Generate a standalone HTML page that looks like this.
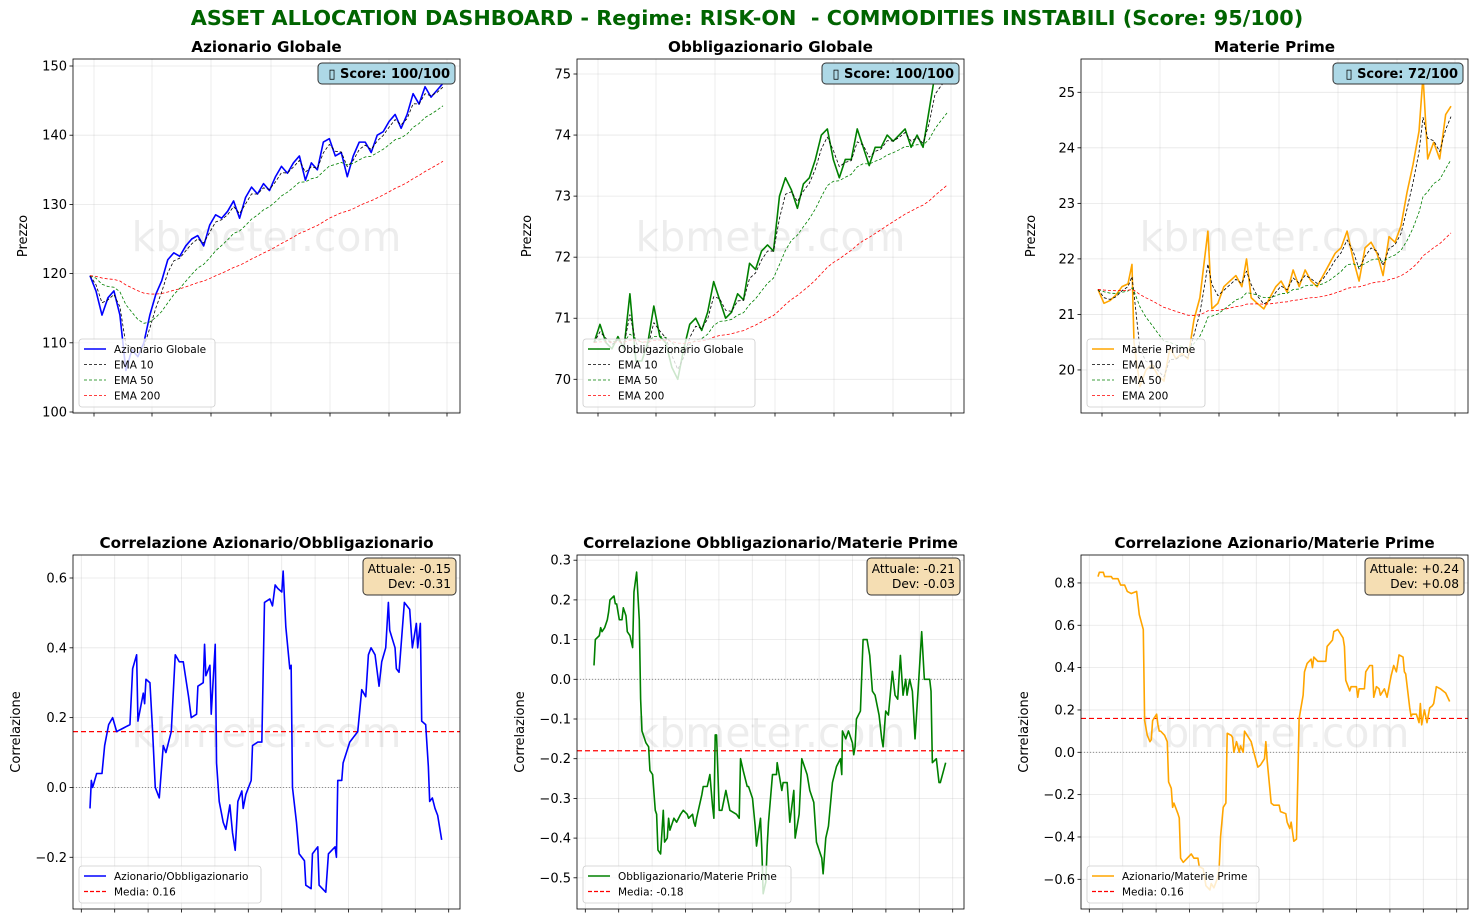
<!DOCTYPE html>
<html><head><meta charset="utf-8"><title>Asset Allocation Dashboard</title>
<style>
html,body{margin:0;padding:0;background:#fff;}
svg{display:block;font-family:"DejaVu Sans","Liberation Sans",sans-serif;}
</style></head>
<body>
<svg id="chart" width="1477" height="924" viewBox="0 0 1477 924" xmlns="http://www.w3.org/2000/svg">
<rect x="0" y="0" width="1477" height="924" fill="#fff"/>
<text x="747" y="25" text-anchor="middle" font-size="20.8" font-weight="bold" fill="#006400" xml:space="preserve">ASSET ALLOCATION DASHBOARD - Regime: RISK-ON&#160; - COMMODITIES INSTABILI (Score: 95/100)</text>
</svg>
<script>
// ---------- DATA ----------
const equityPrice=[119.7,117.5,114,116.5,117.5,114,106,109,108,110,114,117,119,122,123,122.5,124,125,125.5,124,127,128.5,128,129,130.5,128,131,132.5,131.5,133,132,134,135.5,134.5,136,137,133.5,136,135,139,139.5,137,137.5,134,137,139,139,137.5,140,140.5,142,143,141,143,146,144.5,147,145.5,146.5,147.5];
const bondPrice=[70.6,70.9,70.6,70.5,70.7,70.5,71.4,70.3,70.3,70.6,71.2,70.7,70.6,70.2,70.0,70.5,70.9,71.0,70.8,71.1,71.6,71.3,71.0,71.1,71.4,71.3,71.9,71.8,72.1,72.2,72.1,73.0,73.3,73.1,72.8,73.2,73.3,73.6,74.0,74.1,73.6,73.3,73.6,73.6,74.1,73.8,73.5,73.8,73.8,74.0,73.9,74.0,74.1,73.8,74.0,73.8,74.4,75.0,74.9,75.0];
const commDays=[0,4.5,9,13.5,18,22.5,25.5,27,31.5,36,40.5,45,49.5,54,58.5,63,67.5,72,76.5,80,82.5,85.5,90,94.5,99,103.5,108,111.5,115,119.5,124.5,129,133.5,137.5,142,146.5,151,155.5,160,164.5,169,173.5,178,182.5,187,191.5,196,200.5,205,209.5,214,218.5,223,227.5,232,236.5,241,244,247.5,252,256.5,261,265];
const commPrice=[21.45,21.2,21.25,21.35,21.5,21.55,21.9,20.5,19.7,20.0,20.1,19.9,19.8,20.4,20.2,20.3,20.2,20.9,21.3,22.0,22.5,21.1,21.2,21.5,21.6,21.7,21.5,22.0,21.3,21.2,21.1,21.3,21.5,21.6,21.4,21.8,21.5,21.8,21.6,21.5,21.7,21.9,22.1,22.2,22.5,22.0,21.6,22.2,22.3,22.1,21.7,22.4,22.3,22.6,23.2,23.7,24.3,25.3,23.8,24.1,23.8,24.6,24.75];

const corrEBDays=[0,1,2,5,9,11,14,17,20,25,30,32,35,36,40,41,42,45,47,49,52,55,57,61,64,67,70,74,76,80,81,85,86,87,90,91,94,95,97,100,102,105,107,109,111,114,115,117,121,122,126,129,131,135,137,139,141,144,145,147,150,151,152,155,157,161,162,166,167,171,172,177,179,184,185,186,189,190,195,199,201,204,207,209,211,214,217,219,222,224,225,229,230,232,236,240,242,245,246,248,249,252,254,255,257,259,261,264];
const corrEBVals=[-0.06,0.02,0.0,0.04,0.04,0.12,0.18,0.2,0.16,0.17,0.18,0.34,0.38,0.19,0.27,0.24,0.31,0.30,0.16,0.0,-0.03,0.12,0.10,0.16,0.38,0.36,0.36,0.26,0.20,0.21,0.29,0.30,0.41,0.32,0.35,0.21,0.41,0.07,-0.04,-0.10,-0.12,-0.05,-0.13,-0.18,-0.04,-0.01,-0.06,-0.02,0.02,0.12,0.13,0.13,0.53,0.54,0.52,0.58,0.57,0.56,0.62,0.46,0.34,0.35,0.0,-0.10,-0.19,-0.21,-0.28,-0.29,-0.19,-0.17,-0.28,-0.30,-0.19,-0.17,-0.20,0.02,0.02,0.07,0.13,0.15,0.16,0.28,0.26,0.38,0.40,0.38,0.29,0.36,0.40,0.53,0.45,0.40,0.34,0.33,0.53,0.51,0.40,0.47,0.40,0.47,0.19,0.18,0.06,-0.04,-0.03,-0.06,-0.08,-0.15];

const corrBCDays=[0,1,4,5,6,8,10,11,12,15,16,17,19,21,22,24,25,27,29,30,32,34,35,36,39,41,42,44,46,47,48,50,52,53,55,56,57,60,62,65,67,70,71,74,75,76,77,81,82,85,87,89,90,91,92,94,96,99,102,107,109,110,112,115,116,119,121,122,125,126,127,129,130,131,134,137,137.5,139,141,142,145,147,150,151,154,156,160,162,165,167,171,172,174,176,179,182,185,186,186.5,189,191,194,195,196,197,200,202,205,207,209,211,214,216,217,219,221,224,226,228,230,232,234,235,237,239,241,244,246,248,252,253,254,257,259,260,264];
const corrBCVals=[0.035,0.1,0.11,0.13,0.12,0.13,0.15,0.17,0.2,0.21,0.19,0.19,0.15,0.15,0.18,0.16,0.12,0.11,0.08,0.22,0.27,0.15,-0.05,-0.13,-0.16,-0.17,-0.23,-0.24,-0.33,-0.34,-0.43,-0.44,-0.33,-0.41,-0.40,-0.35,-0.38,-0.35,-0.36,-0.34,-0.33,-0.34,-0.35,-0.34,-0.36,-0.37,-0.35,-0.29,-0.27,-0.27,-0.24,-0.32,-0.35,-0.14,-0.14,-0.33,-0.33,-0.28,-0.33,-0.34,-0.35,-0.2,-0.23,-0.27,-0.27,-0.3,-0.37,-0.42,-0.35,-0.43,-0.54,-0.51,-0.42,-0.36,-0.24,-0.24,-0.21,-0.24,-0.28,-0.26,-0.26,-0.36,-0.28,-0.4,-0.34,-0.2,-0.24,-0.28,-0.31,-0.41,-0.45,-0.49,-0.4,-0.37,-0.26,-0.22,-0.2,-0.24,-0.13,-0.15,-0.13,-0.16,-0.19,-0.17,-0.1,-0.08,0.1,0.1,0.06,-0.03,-0.04,-0.09,-0.15,-0.17,-0.08,-0.09,0.02,-0.04,-0.05,0.06,-0.04,0.0,-0.04,0.0,-0.03,-0.15,0.01,0.12,0.0,0.0,-0.03,-0.21,-0.2,-0.26,-0.26,-0.21];

const corrECDays=[0,1,4,5,10,11,15,17,20,22,25,29,31,34,35,37,39,40,41,44,45,46,47,50,52,53,55,56,57,60,61,62,64,67,70,72,75,76,79,81,84,85,87,90,91,92,94,96,97,100,101,102,104,106,107,109,110,112,115,117,120,122,125,126,127,130,132,136,137,141,142,144,145,147,149,151,154,155,157,160,161,162,165,167,171,172,176,177,180,182,184,185,186,189,190,194,195,196,200,201,204,206,207,209,211,212,215,217,220,222,224,226,229,230,231,234,235,236,239,241,242,243,245,247,249,251,252,254,257,261,264];
const corrECVals=[0.83,0.85,0.85,0.83,0.83,0.82,0.82,0.79,0.79,0.76,0.75,0.76,0.65,0.58,0.15,0.08,0.05,0.06,0.15,0.18,0.13,0.1,0.1,0.08,0.05,-0.14,-0.17,-0.26,-0.24,-0.29,-0.31,-0.5,-0.52,-0.5,-0.48,-0.5,-0.5,-0.54,-0.55,-0.63,-0.65,-0.62,-0.64,-0.59,-0.54,-0.4,-0.26,-0.24,0.09,0.08,0.07,0.0,0.05,0.0,0.03,0.0,0.1,0.08,0.05,0.0,-0.07,-0.06,-0.03,0.05,-0.04,-0.24,-0.25,-0.25,-0.28,-0.29,-0.33,-0.36,-0.33,-0.42,-0.41,0.16,0.27,0.38,0.42,0.44,0.4,0.45,0.43,0.43,0.43,0.5,0.53,0.57,0.58,0.56,0.54,0.5,0.34,0.29,0.31,0.31,0.26,0.3,0.3,0.38,0.41,0.41,0.26,0.31,0.3,0.27,0.3,0.26,0.36,0.41,0.38,0.46,0.45,0.38,0.37,0.21,0.17,0.18,0.18,0.14,0.23,0.13,0.2,0.14,0.21,0.22,0.23,0.31,0.3,0.28,0.24];

const priceTitles=["Azionario Globale","Obbligazionario Globale","Materie Prime"];
const priceScores=["100/100","100/100","72/100"];
const corrTitles=["Correlazione Azionario/Obbligazionario","Correlazione Obbligazionario/Materie Prime","Correlazione Azionario/Materie Prime"];
const corrLegend=["Azionario/Obbligazionario","Obbligazionario/Materie Prime","Azionario/Materie Prime"];
const corrMeans=[0.16,-0.18,0.16];
const corrAttuale=["-0.15","-0.21","+0.24"];
const corrDev=["-0.31","-0.03","+0.08"];
const yTicksEquity=[100,110,120,130,140,150];
const yTicksBond=[70,71,72,73,74,75];
const yTicksComm=[20,21,22,23,24,25];
const yTicksCEB=[-0.2,0.0,0.2,0.4,0.6];
const yTicksCBC=[-0.5,-0.4,-0.3,-0.2,-0.1,0.0,0.1,0.2,0.3];
const yTicksCEC=[-0.6,-0.4,-0.2,0.0,0.2,0.4,0.6,0.8];

// ---------- HELPERS ----------
const svg=document.getElementById('chart');
const NS='http://www.w3.org/2000/svg';
function mk(tag,attrs,parent){const e=document.createElementNS(NS,tag);for(const k in attrs)e.setAttribute(k,attrs[k]);(parent||svg).appendChild(e);return e;}
function ema(days,vals,span){const a=2/(span+1);const out=[vals[0]];for(let i=1;i<vals.length;i++){const dt=days[i]-days[i-1];const ae=1-Math.pow(1-a,dt);out.push(out[i-1]+ae*(vals[i]-out[i-1]));}return out;}
const DMAX=265;
function uniformDays(n){const d=[];for(let i=0;i<n;i++)d.push(i*DMAX/(n-1));return d;}
const fmt=(v,dec)=>{const s=v.toFixed(dec);return (s==="-0.0")?"0.0":s.replace('-','\u2212');};

function panel(idx,L,T,W,H,ymin,ymax,yticks,dec,xticks,ylabel){
  const g=mk('g',{});
  
  
  const x=d=>L+17+d/DMAX*353;
  const y=v=>T+H-(v-ymin)/(ymax-ymin)*H;
  const cid='clip'+idx;
  const cp=mk('clipPath',{id:cid},g);mk('rect',{x:L,y:T,width:W,height:H},cp);
  yticks.forEach(t=>{const ln=mk('line',{x1:L,x2:L+W,y1:y(t),y2:y(t),stroke:'#b0b0b0','stroke-opacity':0.3,'stroke-width':0.8},g);
    
    
    mk('line',{x1:L-3.5,x2:L,y1:y(t),y2:y(t),stroke:'#000','stroke-width':0.8},g);
    const tx=mk('text',{x:L-6,y:y(t)+4.5,'text-anchor':'end','font-size':13,fill:'#000'},g);tx.textContent=fmt(t,dec);
    
    
  });
  xticks.forEach(r=>{const ln=mk('line',{x1:L+r,x2:L+r,y1:T,y2:T+H,stroke:'#b0b0b0','stroke-opacity':0.3,'stroke-width':0.8},g);
    
    
    mk('line',{x1:L+r,x2:L+r,y1:T+H,y2:T+H+3.5,stroke:'#000','stroke-width':0.8},g);
  });
  const wm=mk('text',{x:L+W/2,y:T+H/2+15,'text-anchor':'middle','font-size':41,fill:'#000','fill-opacity':0.07},g);wm.textContent='kbmeter.com';
  
  
  const yl=mk('text',{transform:`translate(${ylabel[1]},${T+H/2}) rotate(-90)`,'text-anchor':'middle','font-size':13,fill:'#000'},g);yl.textContent=ylabel[0];
  
  
  const lines=mk('g',{'clip-path':`url(#${cid})`},g);
  return {g,x,y,lines,L,T,W,H};
}
function line(P,days,vals,color,width,dash,name){
  const d=days.map((dd,i)=>(i?'L':'M')+P.x(dd).toFixed(2)+','+P.y(vals[i]).toFixed(2)).join('');
  const p=mk('path',{d:d,fill:'none',stroke:color,'stroke-width':width,'stroke-linejoin':'round'},P.lines);
  if(dash)p.setAttribute('stroke-dasharray',dash);
  
  
  return p;
}
function hline(P,v,color,width,dash,name){
  const p=mk('line',{x1:P.L,x2:P.L+P.W,y1:P.y(v),y2:P.y(v),stroke:color,'stroke-width':width,'stroke-dasharray':dash},P.lines);
  
  
}
function frame(P,title){
  const r=mk('rect',{x:P.L,y:P.T,width:P.W,height:P.H,fill:'none',stroke:'#000','stroke-width':0.8},P.g);
  
  
  const t=mk('text',{x:P.L+P.W/2,y:P.T-7,'text-anchor':'middle','font-size':15.2,'font-weight':'bold',fill:'#000'},P.g);t.textContent=title;
  
  
}
function legend(P,entries,w){
  const h=entries.length*15.5+6;
  const lg=mk('g',{},P.g);
  
  
  mk('rect',{x:P.L+6,y:P.T+P.H-6-h,width:w,height:h,rx:3,fill:'#fff','fill-opacity':0.8,stroke:'#ccc','stroke-width':0.8},lg);
  entries.forEach((e,i)=>{const cy=P.T+P.H-6-h+10+i*15.5;
    const it=mk('g',{},lg);
    
    
    const l=mk('line',{x1:P.L+11,x2:P.L+33,y1:cy,y2:cy,stroke:e[1],'stroke-width':e[2]},it);if(e[3])l.setAttribute('stroke-dasharray',e[3]);
    const t=mk('text',{x:P.L+41,y:cy+4,'font-size':10.5,fill:'#000'},it);t.textContent=e[0];
  });
}
function badge(x,y,w,h,fill,linesTxt,bold,fs,name){
  const g=mk('g',{});
  
  
  mk('rect',{x:x,y:y,width:w,height:h,rx:4,fill:fill,stroke:'#333','stroke-width':1},g);
  linesTxt.forEach((s,i)=>{const t=mk('text',{x:x+w-5,y:y+15+i*15,'text-anchor':'end','font-size':fs,'font-weight':bold?'bold':'normal',fill:'#000'},g);t.textContent=s;});
}

// ---------- TOP PANELS ----------
const topX=[21,79,138,198,257,316,374];
const botX=[8.3,41.7,75.1,108.5,141.9,175.3,208.7,242.1,275.5,308.9,342.3,375.7];
const lefts=[73,577,1081];
const priceSets=[
  [uniformDays(equityPrice.length),equityPrice,'#0000ff',yTicksEquity],
  [uniformDays(bondPrice.length),bondPrice,'#008000',yTicksBond],
  [commDays,commPrice,'#ffa500',yTicksComm]
];
const topRanges=[[150-(413-66)/6.92,150+(66-59)/6.92],[75-(413-74)/61.06,75+(74-59)/61.06],[25-(413-92.3)/55.53,25+(92.3-59)/55.53]];
priceSets.forEach((s,i)=>{
  const P=panel('price-'+i,lefts[i],59,387,354,topRanges[i][0],topRanges[i][1],s[3],0,topX,['Prezzo',lefts[i]-46]);
  const e10=ema(s[0],s[1],10),e50=ema(s[0],s[1],50),e200=ema(s[0],s[1],200);
  line(P,s[0],s[1],s[2],1.6,null,'price-line');
  line(P,s[0],e10,'#000',0.8,'3,2','ema-10-line');
  line(P,s[0],e50,'#008000',0.8,'3,2','ema-50-line');
  line(P,s[0],e200,'#ff0000',0.8,'3,2','ema-200-line');
  frame(P,priceTitles[i]);
  legend(P,[[priceTitles[i],s[2],1.6],['EMA 10','#000',0.8,'3,2'],['EMA 50','#008000',0.8,'3,2'],['EMA 200','#ff0000',0.8,'3,2']],i==1?172:(i==0?136:118));
  const bw=i==2?130:137;
  badge(lefts[i]+387-5-bw,63,bw,21,'#add8e6',['\u25AF Score: '+priceScores[i]],true,13,'score-badge');
});

// ---------- BOTTOM PANELS ----------
const corrSets=[[corrEBDays,corrEBVals,'#0000ff',yTicksCEB],[corrBCDays,corrBCVals,'#008000',yTicksCBC],[corrECDays,corrECVals,'#ffa500',yTicksCEC]];
const botRanges=[[0.6-(909-578)/349.1,0.6+(578-555)/349.1],[-(909-679.3)/397,(679.3-555)/397],[-(909-752.3)/211.7,(752.3-555)/211.7]];
corrSets.forEach((s,i)=>{
  const P=panel('corr-'+i,lefts[i],555,387,354,botRanges[i][0],botRanges[i][1],s[3],1,botX,['Correlazione',lefts[i]-53]);
  hline(P,0,'#808080',0.8,'1,2','zero-line');
  hline(P,corrMeans[i],'#ff0000',1.2,'5,3','mean-line');
  line(P,s[0],s[1],s[2],1.6,null,'correlation-line');
  frame(P,corrTitles[i]);
  legend(P,[[corrLegend[i],s[2],1.6],['Media: '+corrMeans[i].toFixed(2),'#ff0000',1.2,'4,2']],i==0?182:(i==1?208:172));
  const bw=i==2?99:93;
  badge(lefts[i]+387-4-bw,558,bw,37,'#f5deb3',['Attuale: '+corrAttuale[i],'Dev: '+corrDev[i]],false,12.2,'correlation-info-box');
});
</script>
</body></html>
